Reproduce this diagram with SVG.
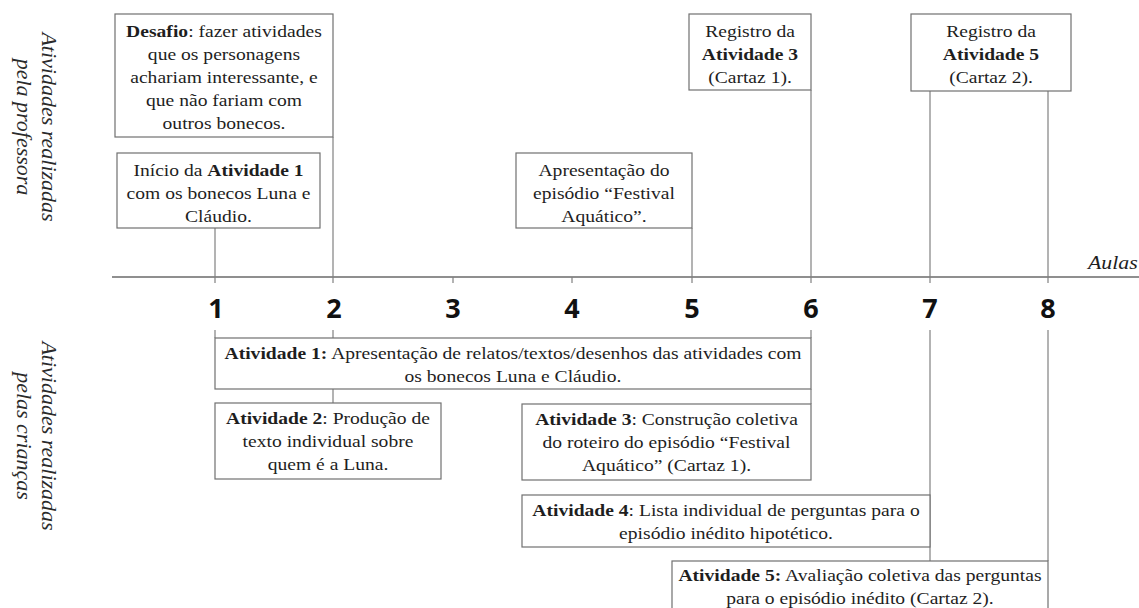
<svg xmlns="http://www.w3.org/2000/svg" width="1139" height="608" viewBox="0 0 1139 608">
<style>
.bg{fill:#ffffff}
.box{fill:#ffffff;stroke:#707070;stroke-width:1.2}
.ln{fill:none;stroke:#808080;stroke-width:1.2}
.axis{fill:none;stroke:#6a6a6a;stroke-width:1.4}
.t{font-family:"Liberation Serif","Times New Roman",serif;font-size:17.5px;fill:#1e1e1e;text-anchor:middle}
.b{font-weight:bold}
.lab{font-family:"Liberation Serif","Times New Roman",serif;font-size:22px;font-style:italic;fill:#2a2a2a;text-anchor:middle}
.num{font-family:"Open Sans","Liberation Sans",sans-serif;font-size:27px;font-weight:bold;fill:#111;text-anchor:middle}
</style>
<rect class="bg" x="0" y="0" width="1139" height="608"/>

<g id="side-labels">
<text class="lab" transform="translate(42 127) rotate(90)"><tspan x="0" y="0">Atividades realizadas</tspan><tspan x="0" y="25">pela professora</tspan></text>
<text class="lab" transform="translate(42 436) rotate(90)"><tspan x="0" y="0">Atividades realizadas</tspan><tspan x="0" y="25">pelas crianças</tspan></text>
</g>

<g id="connectors">
<line class="axis" x1="112" y1="277" x2="1139" y2="277"/>
<line class="ln" x1="215" y1="228" x2="215" y2="283"/>
<line class="ln" x1="333" y1="137" x2="333" y2="283"/>
<line class="ln" x1="453" y1="277" x2="453" y2="283"/>
<line class="ln" x1="572" y1="277" x2="572" y2="283"/>
<line class="ln" x1="692" y1="228" x2="692" y2="283"/>
<line class="ln" x1="811" y1="90" x2="811" y2="283"/>
<line class="ln" x1="930" y1="91" x2="930" y2="283"/>
<line class="ln" x1="1048" y1="91" x2="1048" y2="283"/>
<line class="ln" x1="215" y1="330" x2="215" y2="338"/>
<line class="ln" x1="333" y1="330" x2="333" y2="338"/>
<line class="ln" x1="811" y1="330" x2="811" y2="338"/>
<line class="ln" x1="333" y1="389" x2="333" y2="403"/>
<line class="ln" x1="811" y1="389" x2="811" y2="404"/>
<line class="ln" x1="930" y1="330" x2="930" y2="561"/>
<line class="ln" x1="1048" y1="330" x2="1048" y2="561"/>
</g>

<g id="axis-labels">
<text class="num" x="216" y="318">1</text>
<text class="num" x="334" y="318">2</text>
<text class="num" x="453" y="318">3</text>
<text class="num" x="572" y="318">4</text>
<text class="num" x="692" y="318">5</text>
<text class="num" x="811" y="318">6</text>
<text class="num" x="930" y="318">7</text>
<text class="num" x="1048" y="318">8</text>
<text class="t" style="font-style:italic;text-anchor:start;font-size:19.5px" transform="translate(1088 0) scale(1.12 1)" x="0" y="269">Aulas</text>
</g>

<g id="desafio">
<rect class="box" x="115" y="14" width="218" height="123"/>
<text class="t" transform="translate(224 0) scale(1.12 1)"><tspan x="0" y="37.5"><tspan class="b">Desafio</tspan>: fazer atividades</tspan><tspan x="0" y="60.5">que os personagens</tspan><tspan x="0" y="83.5">achariam interessante, e</tspan><tspan x="0" y="106.5">que não fariam com</tspan><tspan x="0" y="129.5">outros bonecos.</tspan></text>
</g>

<g id="inicio-atividade1">
<rect class="box" x="117" y="153" width="203" height="75"/>
<text class="t" transform="translate(218.5 0) scale(1.12 1)"><tspan x="0" y="176">Início da <tspan class="b">Atividade 1</tspan></tspan><tspan x="0" y="199">com os bonecos Luna e</tspan><tspan x="0" y="222">Cláudio.</tspan></text>
</g>

<g id="apresentacao-episodio">
<rect class="box" x="516" y="153" width="176" height="75"/>
<text class="t" transform="translate(604 0) scale(1.12 1)"><tspan x="0" y="176">Apresentação do</tspan><tspan x="0" y="199">episódio “Festival</tspan><tspan x="0" y="222">Aquático”.</tspan></text>
</g>

<g id="registro-atividade3">
<rect class="box" x="689" y="14" width="122" height="76"/>
<text class="t" transform="translate(750 0) scale(1.12 1)"><tspan x="0" y="37.5">Registro da</tspan><tspan x="0" y="60" class="b">Atividade 3</tspan><tspan x="0" y="83">(Cartaz 1).</tspan></text>
</g>

<g id="registro-atividade5">
<rect class="box" x="911" y="14" width="160" height="77"/>
<text class="t" transform="translate(991 0) scale(1.12 1)"><tspan x="0" y="37.5">Registro da</tspan><tspan x="0" y="60" class="b">Atividade 5</tspan><tspan x="0" y="83">(Cartaz 2).</tspan></text>
</g>

<g id="atividade1">
<rect class="box" x="215" y="338" width="596" height="51"/>
<text class="t" transform="translate(513 0) scale(1.12 1)"><tspan x="0" y="359"><tspan class="b">Atividade 1:</tspan> Apresentação de relatos/textos/desenhos das atividades com</tspan><tspan x="0" y="382">os bonecos Luna e Cláudio.</tspan></text>
</g>

<g id="atividade2">
<rect class="box" x="215" y="403" width="226" height="76"/>
<text class="t" transform="translate(328 0) scale(1.12 1)"><tspan x="0" y="424"><tspan class="b">Atividade 2</tspan>: Produção de</tspan><tspan x="0" y="447">texto individual sobre</tspan><tspan x="0" y="470">quem é a Luna.</tspan></text>
</g>

<g id="atividade3">
<rect class="box" x="522" y="404" width="289" height="76"/>
<text class="t" transform="translate(666.5 0) scale(1.12 1)"><tspan x="0" y="425"><tspan class="b">Atividade 3</tspan>: Construção coletiva</tspan><tspan x="0" y="448">do roteiro do episódio “Festival</tspan><tspan x="0" y="471">Aquático” (Cartaz 1).</tspan></text>
</g>

<g id="atividade4">
<rect class="box" x="522" y="495" width="408" height="52"/>
<text class="t" transform="translate(726 0) scale(1.12 1)"><tspan x="0" y="516"><tspan class="b">Atividade 4</tspan>: Lista individual de perguntas para o</tspan><tspan x="0" y="539">episódio inédito hipotético.</tspan></text>
</g>

<g id="atividade5">
<rect class="box" x="672" y="561" width="376" height="60"/>
<text class="t" transform="translate(860 0) scale(1.12 1)"><tspan x="0" y="581"><tspan class="b">Atividade 5:</tspan> Avaliação coletiva das perguntas</tspan><tspan x="0" y="604">para o episódio inédito (Cartaz 2).</tspan></text>
</g>
</svg>
